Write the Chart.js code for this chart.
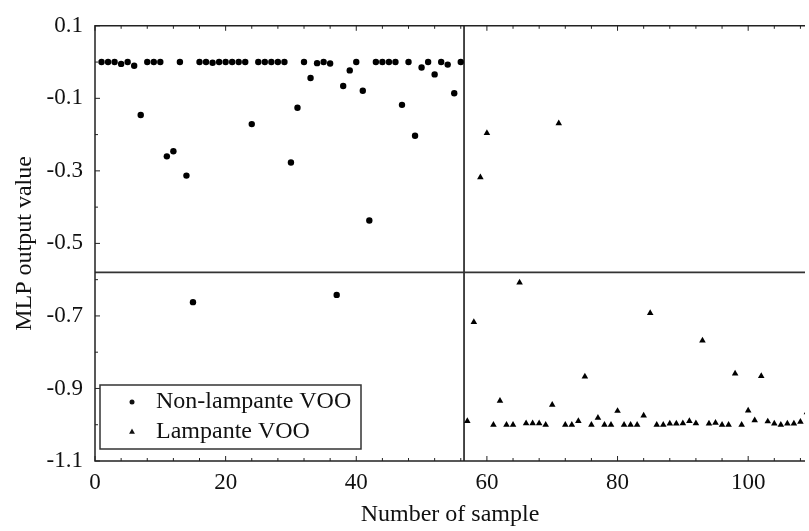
<!DOCTYPE html>
<html>
<head>
<meta charset="utf-8">
<script src="https://cdn.jsdelivr.net/npm/chart.js@4.4.0/dist/chart.umd.min.js"></script>
<style>
  html, body { margin: 0; padding: 0; background: #fff; }
  #wrap { width: 809px; height: 531px; }
</style>
</head>
<body>
<div id="wrap"><canvas id="chart" width="809" height="531"></canvas></div>
<script>
// sample numbers and MLP outputs
const nonLampanteSamples = [1, 2, 3, 4, 5, 6, 7, 8, 9, 10, 11, 12, 13, 14, 15, 16, 17, 18, 19, 20,
	21, 22, 23, 24, 25, 26, 27, 28, 29, 30, 31, 32, 33, 34, 35, 36, 37, 38, 39, 40,
	41, 42, 43, 44, 45, 46, 47, 48, 49, 50, 51, 52, 53, 54, 55, 56];
const nonLampanteValues = [0, 0, 0, -0.005, 0, -0.01, -0.146, 0, 0, 0, -0.26, -0.246, 0, -0.313, -0.662, 0, 0, -0.002, 0, 0,
	0, 0, 0, -0.171, 0, 0, 0, 0, 0, -0.277, -0.126, 0, -0.044, -0.003, 0, -0.004, -0.642, -0.066, -0.023, 0,
	-0.079, -0.437, 0, 0, 0, 0, -0.118, 0, -0.203, -0.015, 0, -0.034, 0, -0.007, -0.086, 0];

const lampanteSamples = [57, 58, 59, 60, 61, 62, 63, 64, 65, 66, 67, 68, 69, 70, 71, 72, 73, 74, 75, 76,
	77, 78, 79, 80, 81, 82, 83, 84, 85, 86, 87, 88, 89, 90, 91, 92, 93, 94, 95, 96,
	97, 98, 99, 100, 101, 102, 103, 104, 105, 106, 107, 108, 109];
const lampanteValues = [-0.99, -0.717, -0.318, -0.196, -1.0, -0.934, -1.0, -1.0, -0.608, -0.996, -0.996, -0.996, -1.0, -0.945, -0.169, -1.0, -1.0, -0.99, -0.867, -1.0,
	-0.981, -1.0, -1.0, -0.962, -1.0, -1.0, -1.0, -0.975, -0.692, -1.0, -1.0, -0.997, -0.997, -0.996, -0.99, -0.996, -0.768, -0.997, -0.995, -1.0,
	-1.0, -0.859, -1.0, -0.961, -0.988, -0.866, -0.991, -0.997, -1.0, -0.997, -0.997, -0.992, -0.966];

const seriesNames = ['Non-lampante VOO', 'Lampante VOO'];
const xTickLabels = [0, 20, 40, 60, 80, 100];
const yTickLabels = [0.1, -0.1, -0.3, -0.5, -0.7, -0.9, -1.1];
const xRange = [0, 108.7];
const yRange = [-1.1, 0.1];
const classBoundary = 56.5;
const outputThreshold = -0.58;

const serif = "'Liberation Serif', 'Times New Roman', serif";
const ink = '#111';

function toPoints(xs, ys)
{
	return xs.map((x, i) => ({ x: x, y: ys[i] }));
}

function drawTriangle(ctx, x, y, r)
{
	ctx.beginPath();
	ctx.moveTo(x, y - r);
	ctx.lineTo(x + r * 0.866, y + r * 0.5);
	ctx.lineTo(x - r * 0.866, y + r * 0.5);
	ctx.closePath();
	ctx.fill();
}

// frame (left, top, bottom), inward ticks and the boxed legend
const framePlugin = {
	id: 'frame',
	afterDatasetsDraw(chart)
	{
		const { ctx, chartArea: a, scales: { x, y } } = chart;
		ctx.save();
		ctx.strokeStyle = '#222';
		ctx.lineWidth = 1.5;
		ctx.beginPath();
		ctx.moveTo(a.right, a.top);
		ctx.lineTo(a.left, a.top);
		ctx.lineTo(a.left, a.bottom);
		ctx.lineTo(a.right, a.bottom);
		ctx.stroke();

		ctx.lineWidth = 1;
		ctx.beginPath();
		for (let v = xRange[0]; v <= xRange[1]; v += 4)
		{
			const px = x.getPixelForValue(v);
			const len = v % 20 === 0 ? 5 : 3;
			ctx.moveTo(px, a.bottom);
			ctx.lineTo(px, a.bottom - len);
			ctx.moveTo(px, a.top);
			ctx.lineTo(px, a.top + len);
		}
		for (let k = 0; k <= 12; k++)
		{
			const py = y.getPixelForValue(yRange[1] - k * 0.1);
			const len = k % 2 === 0 ? 5 : 3;
			ctx.moveTo(a.left, py);
			ctx.lineTo(a.left + len, py);
		}
		ctx.stroke();

		// legend
		const left = a.left + 5;
		const top = a.bottom - 76;
		ctx.fillStyle = '#fff';
		ctx.fillRect(left, top, 261, 64);
		ctx.strokeStyle = '#333';
		ctx.lineWidth = 1.5;
		ctx.strokeRect(left, top, 261, 64);

		ctx.fillStyle = ink;
		ctx.beginPath();
		ctx.arc(left + 32, top + 17, 2.5, 0, Math.PI * 2);
		ctx.fill();
		drawTriangle(ctx, left + 32, top + 47, 3.4);

		ctx.font = "24px " + serif;
		ctx.textBaseline = 'middle';
		ctx.textAlign = 'left';
		ctx.fillText(seriesNames[0], left + 56, top + 17);
		ctx.fillText(seriesNames[1], left + 56, top + 47);
		ctx.restore();
	}
};

Chart.defaults.font.family = serif;
Chart.defaults.color = ink;

new Chart(document.getElementById('chart'),
{
	type: 'scatter',
	data:
	{
		datasets: [
			{
				label: seriesNames[0],
				data: toPoints(nonLampanteSamples, nonLampanteValues),
				pointStyle: 'circle',
				pointRadius: 3.2,
				backgroundColor: '#000',
				borderWidth: 0
			},
			{
				label: seriesNames[1],
				data: toPoints(lampanteSamples, lampanteValues),
				pointStyle: 'triangle',
				pointRadius: 3.8,
				backgroundColor: '#000',
				borderWidth: 0
			},
			{
				label: 'boundary',
				data: [{ x: classBoundary, y: yRange[0] }, { x: classBoundary, y: yRange[1] }],
				showLine: true,
				pointRadius: 0,
				borderColor: '#333',
				borderWidth: 1.8
			},
			{
				label: 'threshold',
				data: [{ x: xRange[0], y: outputThreshold }, { x: xRange[1], y: outputThreshold }],
				showLine: true,
				pointRadius: 0,
				borderColor: '#333',
				borderWidth: 1.8
			}
		]
	},
	options:
	{
		responsive: false,
		devicePixelRatio: 1,
		animation: false,
		layout: { padding: { top: 21, right: 0, left: 0, bottom: 0 } },
		plugins:
		{
			legend: { display: false },
			tooltip: { enabled: false }
		},
		scales:
		{
			x:
			{
				type: 'linear',
				min: xRange[0],
				max: xRange[1],
				grid: { display: false, drawTicks: false },
				border: { display: false },
				afterBuildTicks: s => { s.ticks = xTickLabels.map(v => ({ value: v })); },
				afterFit: s => { s.height = 70; },
				ticks:
				{
					padding: 8,
					maxRotation: 0,
					autoSkip: false,
					color: ink,
					font: { size: 23 }
				},
				title:
				{
					display: true,
					text: 'Number of sample',
					color: ink,
					font: { size: 24 },
					padding: { top: 0, bottom: 2 }
				}
			},
			y:
			{
				type: 'linear',
				min: yRange[0],
				max: yRange[1],
				grid: { display: false, drawTicks: false },
				border: { display: false },
				afterBuildTicks: s => { s.ticks = yTickLabels.map(v => ({ value: v })); },
				afterFit: s => { s.width = 95; },
				ticks:
				{
					padding: 12,
					autoSkip: false,
					color: ink,
					font: { size: 23 },
					callback: v => Number(v).toFixed(1)
				},
				title:
				{
					display: true,
					text: 'MLP output value',
					color: ink,
					font: { size: 24 },
					padding: { top: 10, bottom: 0 }
				}
			}
		}
	},
	plugins: [framePlugin]
});
</script>
</body>
</html>
